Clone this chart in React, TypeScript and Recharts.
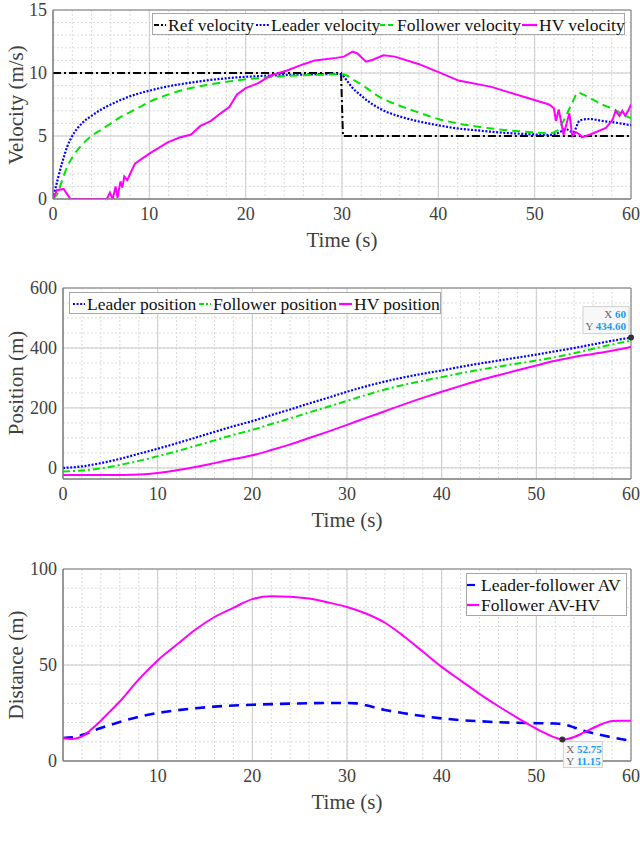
import React from "react";
import {
  LineChart,
  Line,
  XAxis,
  YAxis,
  CartesianGrid,
  ReferenceArea,
  ReferenceDot,
} from "recharts";

type Pt = [number, number];

// ---- ticks ----
const timeTicks = [0, 10, 20, 30, 40, 50, 60];
const distTimeTicks = [10, 20, 30, 40, 50, 60];
const velTicks = [0, 5, 10, 15];
const posTicks = [0, 200, 400, 600];
const distTicks = [0, 50, 100];

const minorTime = [0, 2, 4, 6, 8, 10, 12, 14, 16, 18, 20, 22, 24, 26, 28, 30, 32, 34, 36, 38, 40, 42, 44, 46, 48, 50, 52, 54, 56, 58, 60];
const minorVel = [1, 2, 3, 4, 5, 6, 7, 8, 9, 10, 11, 12, 13, 14];
const minorPos = [0, 50, 100, 150, 200, 250, 300, 350, 400, 450, 500, 550, 600];
const minorDist = [10, 20, 30, 40, 50, 60, 70, 80, 90];

// ---- velocity (m/s) vs time (s) ----
const refVelocity: Pt[] = [[0, 10], [29.9, 10], [30.1, 5], [60, 5]];

const leaderVelocity: Pt[] = [
  [0, 0], [0.5, 1.6], [1, 3.0], [1.5, 4.2], [2, 5.0], [3, 6.0], [4, 6.6], [5, 7.1], [6, 7.5], [7, 7.85],
  [8, 8.15], [10, 8.6], [12, 8.95], [14, 9.2], [16, 9.42], [18, 9.58], [20, 9.7], [22, 9.78], [24, 9.84],
  [26, 9.88], [28, 9.91], [29.6, 9.93], [30, 9.85], [30.5, 9.4], [31, 8.9], [32, 8.2], [33, 7.6], [34, 7.15],
  [35, 6.8], [36, 6.55], [38, 6.15], [40, 5.85], [42, 5.6], [44, 5.45], [46, 5.3], [48, 5.2], [50, 5.12],
  [51.5, 5.08], [52.5, 5.25], [53.2, 5.55], [54, 5.3], [54.7, 6.25], [55.7, 6.35], [57, 6.2], [58.5, 6.05], [60, 5.85],
];

const followerVelocity: Pt[] = [
  [0, 0], [0.5, 0.5], [1, 1.6], [1.5, 2.6], [2, 3.3], [3, 4.3], [4, 5.0], [5, 5.5], [6, 6.0], [7, 6.5],
  [8, 6.9], [9, 7.3], [10, 7.7], [12, 8.3], [14, 8.75], [16, 9.05], [18, 9.3], [20, 9.5], [22, 9.65],
  [24, 9.75], [26, 9.82], [28, 9.87], [30, 9.9], [30.5, 9.8], [31, 9.55], [32, 9.1], [33, 8.55], [34, 8.05],
  [35, 7.7], [36, 7.4], [38, 6.85], [40, 6.35], [42, 6.0], [44, 5.75], [46, 5.55], [48, 5.4], [50, 5.28],
  [51.5, 5.2], [52.3, 5.4], [53, 6.2], [53.5, 7.0], [54, 7.8], [54.5, 8.45], [55, 8.3], [56, 7.9],
  [57, 7.5], [58, 7.2], [59, 6.8], [60, 6.4],
];

const hvVelocity: Pt[] = [
  [0, 0], [0.4, 0.7], [1.1, 0.8], [1.5, 0.35], [1.8, 0], [5.6, 0], [5.9, 0.5], [6.2, 0], [6.5, 1.0],
  [6.7, 0.1], [7.0, 1.4], [7.2, 0.9], [7.4, 1.8], [7.7, 1.5], [8.5, 2.8], [10, 3.6], [11.9, 4.5],
  [13.2, 4.9], [14.3, 5.1], [15.3, 5.8], [16.4, 6.2], [17.4, 6.8], [18.3, 7.3], [19.1, 8.3], [20, 8.8],
  [21.3, 9.2], [22.6, 9.8], [24.3, 10.2], [26, 10.7], [27.2, 11.0], [29.4, 11.2], [30.2, 11.3], [31.1, 11.7],
  [31.6, 11.55], [32.5, 10.9], [33.2, 11.05], [34.3, 11.4], [35.5, 11.3], [38, 10.7], [40.4, 9.95],
  [42.1, 9.4], [45.5, 8.9], [47.2, 8.5], [49.8, 7.9], [51.5, 7.5], [52, 7.2], [52.2, 6.2], [52.5, 7.1],
  [53, 5.1], [53.6, 6.8], [53.9, 5.0], [54.3, 5.3], [54.7, 5.1], [54.9, 4.9], [55.7, 5.1], [57.4, 5.65],
  [58.1, 6.3], [58.4, 7.0], [58.8, 6.6], [59.1, 7.0], [59.4, 6.6], [59.7, 7.0], [60, 7.5],
];

// ---- position (m) vs time (s) ----
const posTime = [0, 2, 4, 6, 8, 10, 12, 14, 16, 18, 20, 22, 24, 26, 28, 30, 32, 34, 36, 38, 40, 42, 44, 46, 48, 50, 52, 54, 56, 58, 60];
const leaderPos = [0, 5, 16, 30, 47, 64, 82, 101, 120, 139, 156, 176, 195, 215, 234, 254, 272, 288, 302, 314, 325, 337, 348, 358, 368, 378, 389, 400, 412, 424, 434.6];
const followerPos = [-12, -8.5, -1.5, 10, 23.5, 39, 55.5, 73.5, 91.8, 110.2, 126.7, 146.4, 165.1, 185, 203.9, 223.8, 243.2, 261.4, 277, 290.5, 302.8, 315.7, 327.3, 337.8, 348.1, 358.3, 369.5, 382.5, 397.5, 411.7, 424.1];
const hvPos = [-24, -24, -24, -23.5, -22, -17, -8, 3, 16, 29.5, 42, 59.5, 78.5, 99.5, 121, 143.5, 166.7, 189, 212, 233.5, 253.9, 273.7, 292.3, 309.3, 325.6, 341.7, 357.3, 369.9, 380.2, 390.8, 403.2];

// ---- distance (m) vs time (s) ----
const leaderFollowerGap: Pt[] = [
  [0, 12], [1, 12.3], [2, 13.5], [4, 17.2], [6, 20.3], [8, 23], [10, 25], [12, 26.4], [14, 27.5], [16, 28.3],
  [18, 28.9], [20, 29.3], [22, 29.6], [24, 29.9], [26, 30.1], [28, 30.2], [30, 30.2], [31, 30], [32, 29],
  [34, 26.6], [36, 24.9], [38, 23.4], [40, 22.2], [42, 21.3], [44, 20.7], [46, 20.2], [48, 19.9], [50, 19.7],
  [52, 19.5], [53, 19], [54, 17.5], [55, 15.8], [56, 14.5], [58, 12.3], [60, 10.5],
];

const followerHvGap: Pt[] = [
  [0, 11.8], [0.5, 11.6], [1, 11.5], [2, 12.8], [3, 16.5], [4, 21], [5, 26], [6, 31], [8, 42.5], [10, 52.4],
  [12, 60.5], [14, 68.5], [16, 75], [18, 79.8], [20, 84.3], [22, 85.8], [24, 85.6], [26, 84.6], [28, 82.6],
  [30, 80.2], [32, 76.8], [34, 72], [36, 65], [38, 57], [40, 49], [42, 42], [44, 35], [46, 28.5], [48, 22.5],
  [50, 16.8], [52, 12.2], [52.75, 11.15], [54, 12.5], [55, 14.8], [56, 17.2], [57, 19.4], [58, 20.8], [59, 21], [60, 20.9],
];

const posTip: Pt = [60, 434.6];
const distTip: Pt = [52.75, 11.15];

const SERIF = '"Liberation Serif", "Times New Roman", serif';
const TEXT = "#404040";
const BLUE = "#0000ff";
const GREEN = "#00e600";
const MAGENTA = "#ff00ff";

const rows = (pts: Pt[]) => pts.map(([t, v]) => ({ t, v }));
const posRows = posTime.map((t, i) => ({
  t,
  leader: leaderPos[i],
  follower: followerPos[i],
  hv: hvPos[i],
}));

const tickStyle = { fontSize: 18, fill: TEXT, fontFamily: SERIF };

interface LegendItem {
  label: string;
  color: string;
  dash?: string;
  x: number;
  y: number;
  w: number;
}

function LegendBox(props: { left: number; top: number; width: number; height: number; items: LegendItem[] }) {
  const { left, top, width, height, items } = props;
  return (
    <div
      style={{
        position: "absolute",
        left,
        top,
        width,
        height,
        border: "1px solid #a6a6a6",
        background: "#fff",
        boxSizing: "border-box",
      }}
    >
      {items.map((it) => (
        <div
          key={it.label}
          style={{
            position: "absolute",
            left: it.x - left - 1,
            top: it.y - top - 11,
            height: 22,
            display: "flex",
            alignItems: "center",
            whiteSpace: "nowrap",
          }}
        >
          <svg width={it.w} height={6} style={{ display: "block" }}>
            <line x1={0} y1={3} x2={it.w} y2={3} stroke={it.color} strokeWidth={2.2} strokeDasharray={it.dash} />
          </svg>
          <span style={{ marginLeft: 2, fontSize: 17.5, fontFamily: SERIF, color: "#111", lineHeight: "22px" }}>
            {it.label}
          </span>
        </div>
      ))}
    </div>
  );
}

function Title(props: { x: number; y: number; text: string; rotate?: boolean }) {
  return (
    <div
      style={{
        position: "absolute",
        left: props.x,
        top: props.y,
        transform: `translate(-50%, -50%)${props.rotate ? " rotate(-90deg)" : ""}`,
        whiteSpace: "nowrap",
        fontFamily: SERIF,
        fontSize: 21,
        color: TEXT,
        lineHeight: "24px",
      }}
    >
      {props.text}
    </div>
  );
}

function TipAbove(p: any) {
  const { cx, cy } = p;
  const w = 46;
  const h = 27;
  const x0 = cx - w - 2;
  const y0 = cy - h - 4;
  return (
    <g>
      <rect x={x0} y={y0} width={w} height={h} fill="#f8f8f8" stroke="#cfcfcf" />
      <text x={x0 + w - 3} y={y0 + 11} textAnchor="end" fontSize={11} fontFamily={SERIF}>
        <tspan fill="#666">X </tspan>
        <tspan fill="#1a9cf0" fontWeight="bold">{posTip[0]}</tspan>
      </text>
      <text x={x0 + w - 3} y={y0 + 23} textAnchor="end" fontSize={11} fontFamily={SERIF}>
        <tspan fill="#666">Y </tspan>
        <tspan fill="#1a9cf0" fontWeight="bold">{posTip[1].toFixed(2)}</tspan>
      </text>
      <circle cx={cx} cy={cy} r={3} fill="#333" />
    </g>
  );
}

function TipBelow(p: any) {
  const { cx, cy } = p;
  const w = 39;
  const h = 26;
  const x0 = cx + 1;
  const y0 = cy + 2;
  return (
    <g>
      <rect x={x0} y={y0} width={w} height={h} fill="#f8f8f8" stroke="#cfcfcf" />
      <text x={x0 + 3} y={y0 + 11} fontSize={11} fontFamily={SERIF}>
        <tspan fill="#666">X </tspan>
        <tspan fill="#1a9cf0" fontWeight="bold">{distTip[0]}</tspan>
      </text>
      <text x={x0 + 3} y={y0 + 23} fontSize={11} fontFamily={SERIF}>
        <tspan fill="#666">Y </tspan>
        <tspan fill="#1a9cf0" fontWeight="bold">{distTip[1]}</tspan>
      </text>
      <circle cx={cx} cy={cy} r={3} fill="#333" />
    </g>
  );
}

const xAxisProps = {
  dataKey: "t",
  type: "number" as const,
  domain: [0, 60],
  allowDataOverflow: true,
  tick: tickStyle,
  tickLine: false,
  axisLine: { stroke: "#808080" },
  height: 30,
  tickSize: 6,
  tickMargin: 2,
  interval: 0 as const,
};

const yAxisBase = {
  type: "number" as const,
  allowDataOverflow: true,
  tick: tickStyle,
  tickLine: false,
  axisLine: { stroke: "#808080" },
  tickSize: 6,
  tickMargin: 0,
  interval: 0 as const,
};

export default function App() {
  return (
    <div style={{ position: "absolute", left: 0, top: 0, width: 640, height: 845, background: "#fff", overflow: "hidden" }}>
      {/* velocity */}
      <div style={{ position: "absolute", left: 0, top: 0 }}>
        <LineChart width={640} height={250} margin={{ top: 10, right: 9, bottom: 21, left: 18 }}>
          <CartesianGrid verticalValues={minorTime} horizontalValues={minorVel} stroke="#dadada" strokeDasharray="2 2" />
          <CartesianGrid stroke="#cbcbcb" />
          <XAxis {...xAxisProps} ticks={timeTicks} />
          <YAxis {...yAxisBase} domain={[0, 15]} ticks={velTicks} width={35} />
          <ReferenceArea x1={0} x2={60} y1={0} y2={15} fill="none" stroke="#808080" />
          <Line data={rows(refVelocity)} dataKey="v" type="linear" stroke="#000" strokeWidth={2} strokeDasharray="8 3 2 3" dot={false} isAnimationActive={false} />
          <Line data={rows(leaderVelocity)} dataKey="v" type="monotone" stroke={BLUE} strokeWidth={2.2} strokeDasharray="2 1.6" dot={false} isAnimationActive={false} />
          <Line data={rows(followerVelocity)} dataKey="v" type="monotone" stroke={GREEN} strokeWidth={2} strokeDasharray="8 5" dot={false} isAnimationActive={false} />
          <Line data={rows(hvVelocity)} dataKey="v" type="linear" stroke={MAGENTA} strokeWidth={2} dot={false} isAnimationActive={false} />
        </LineChart>
      </div>

      {/* position */}
      <div style={{ position: "absolute", left: 0, top: 268 }}>
        <LineChart width={640} height={262} data={posRows} margin={{ top: 20, right: 9, bottom: 21, left: 18 }}>
          <CartesianGrid verticalValues={minorTime} horizontalValues={minorPos} stroke="#dadada" strokeDasharray="2 2" />
          <CartesianGrid stroke="#cbcbcb" />
          <XAxis {...xAxisProps} ticks={timeTicks} />
          <YAxis {...yAxisBase} domain={[-37, 600]} ticks={posTicks} width={45} />
          <ReferenceArea x1={0} x2={60} y1={-37} y2={600} fill="none" stroke="#808080" />
          <Line dataKey="leader" type="monotone" stroke={BLUE} strokeWidth={2.2} strokeDasharray="2 1.6" dot={false} isAnimationActive={false} />
          <Line dataKey="follower" type="monotone" stroke={GREEN} strokeWidth={2} strokeDasharray="7 3 2 3" dot={false} isAnimationActive={false} />
          <Line dataKey="hv" type="monotone" stroke={MAGENTA} strokeWidth={2} dot={false} isAnimationActive={false} />
          <ReferenceDot x={posTip[0]} y={posTip[1]} r={3} shape={TipAbove} ifOverflow="visible" />
        </LineChart>
      </div>

      {/* distance */}
      <div style={{ position: "absolute", left: 0, top: 549 }}>
        <LineChart width={640} height={261} margin={{ top: 20, right: 9, bottom: 19, left: 18 }}>
          <CartesianGrid verticalValues={minorTime} horizontalValues={minorDist} stroke="#dadada" strokeDasharray="2 2" />
          <CartesianGrid stroke="#cbcbcb" />
          <XAxis {...xAxisProps} ticks={distTimeTicks} />
          <YAxis {...yAxisBase} domain={[0, 100]} ticks={distTicks} width={45} />
          <ReferenceArea x1={0} x2={60} y1={0} y2={100} fill="none" stroke="#808080" />
          <Line data={rows(leaderFollowerGap)} dataKey="v" type="monotone" stroke={BLUE} strokeWidth={2.6} strokeDasharray="10 7" dot={false} isAnimationActive={false} />
          <Line data={rows(followerHvGap)} dataKey="v" type="monotone" stroke={MAGENTA} strokeWidth={2} dot={false} isAnimationActive={false} />
          <ReferenceDot x={distTip[0]} y={distTip[1]} r={3} shape={TipBelow} ifOverflow="visible" />
        </LineChart>
      </div>

      <Title x={342} y={240} text="Time (s)" />
      <Title x={347} y={520} text="Time (s)" />
      <Title x={347} y={802} text="Time (s)" />
      <Title x={16} y={105} text="Velocity (m/s)" rotate />
      <Title x={16} y={383} text="Position (m)" rotate />
      <Title x={16} y={665} text="Distance (m)" rotate />

      <LegendBox
        left={152}
        top={13}
        width={473}
        height={22}
        items={[
          { label: "Ref velocity", color: "#000", dash: "5 2 2 2", x: 154, y: 24, w: 12 },
          { label: "Leader velocity", color: BLUE, dash: "2 1.6", x: 256, y: 24, w: 13 },
          { label: "Follower velocity", color: GREEN, dash: "5 3", x: 380, y: 24, w: 15 },
          { label: "HV velocity", color: MAGENTA, x: 522, y: 24, w: 15 },
        ]}
      />
      <LegendBox
        left={69}
        top={292}
        width={372}
        height={22}
        items={[
          { label: "Leader position", color: BLUE, dash: "2 1.6", x: 73, y: 303, w: 12 },
          { label: "Follower position", color: GREEN, dash: "5 2 2 2", x: 199, y: 303, w: 12 },
          { label: "HV position", color: MAGENTA, x: 339, y: 303, w: 13 },
        ]}
      />
      <LegendBox
        left={466}
        top={573}
        width={161}
        height={43}
        items={[
          { label: "Leader-follower AV", color: BLUE, dash: "8 20", x: 467, y: 584, w: 12 },
          { label: "Follower AV-HV", color: MAGENTA, x: 467, y: 604, w: 12 },
        ]}
      />
    </div>
  );
}
